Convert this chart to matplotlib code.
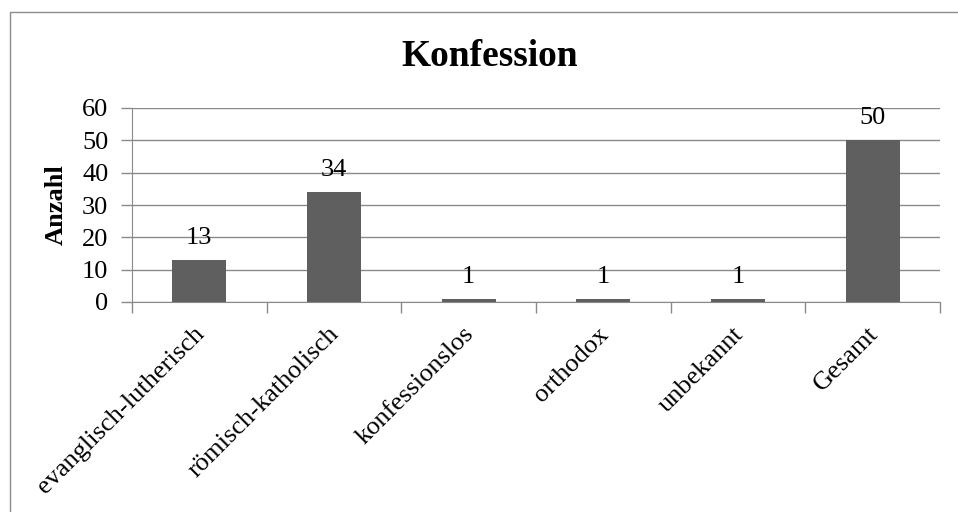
import matplotlib
matplotlib.use('Agg')
import matplotlib.pyplot as plt
import numpy as np
from matplotlib.patches import Rectangle

# data
categories = ['evanglisch-lutherisch', 'römisch-katholisch', 'konfessionslos',
              'orthodox', 'unbekannt', 'Gesamt']
counts = [13, 34, 1, 1, 1, 50]
y_ticks = [0, 10, 20, 30, 40, 50, 60]

plt.rcParams['font.family'] = ['Liberation Serif', 'DejaVu Serif']

BAR = '#5f5f5f'
GRID = '#8a8a8a'
FS = 19

fig = plt.figure(figsize=(9.58, 5.12), dpi=100)
ax = fig.add_axes([132 / 958, 1 - 302 / 512, (940 - 132) / 958, (302 - 108) / 512])

x = np.arange(len(categories))
ax.bar(x, counts, width=0.4, color=BAR, zorder=3)

for xi, v in zip(x, counts):
    ax.annotate(str(v), (xi, v), xytext=(0, 8), textcoords='offset points',
                ha='center', va='bottom', fontsize=FS)

ax.set_xlim(-0.5, len(categories) - 0.5)
ax.set_ylim(0, 60)
ax.set_yticks(y_ticks)
ax.yaxis.grid(True, color=GRID, lw=1, zorder=0)

# category ticks sit on the boundaries, labels go at centres
ax.set_xticks(np.arange(len(categories) + 1) - 0.5)
ax.set_xticklabels([])
ax.tick_params(axis='x', length=8, width=1, color=GRID, direction='out')
ax.tick_params(axis='y', length=8, width=1, color=GRID, direction='out',
               labelsize=FS, pad=9)
for xi, lab in zip(x, categories):
    ax.text(xi - 0.045, -6.5, lab, rotation=45, ha='right', va='top',
            rotation_mode='anchor', fontsize=FS, transform=ax.transData)

for s in ['top', 'right']:
    ax.spines[s].set_visible(False)
ax.spines['left'].set_color(GRID)
ax.spines['bottom'].set_color(GRID)

ax.set_ylabel('Anzahl', fontsize=FS, fontweight='bold', labelpad=10)
fig.text(490 / 958, 1 - 56 / 512, 'Konfession', ha='center', va='center',
         fontsize=27, fontweight='bold')

# chart frame (only top and left are inside the picture)
fig.add_artist(Rectangle((10 / 958, -0.1), 1, (512 - 12) / 512 + 0.1,
                         transform=fig.transFigure, fill=False,
                         edgecolor='#8c8c8c', lw=1))

fig.savefig('out.png', dpi=100)
